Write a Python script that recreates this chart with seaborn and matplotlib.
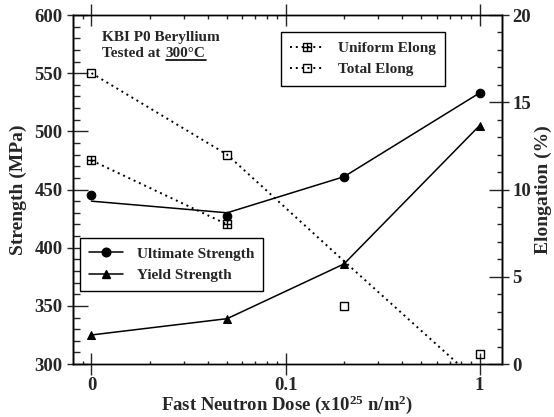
import numpy as np
import matplotlib
matplotlib.use("Agg")
import matplotlib.pyplot as plt
import seaborn as sns
from matplotlib.path import Path
from matplotlib.lines import Line2D
from matplotlib.ticker import FixedLocator, MultipleLocator, NullFormatter, NullLocator

# ---------------- data ----------------
dose = np.array([0.0, 0.05, 0.2, 1.0])           # x10^25 n/m^2
ultimate_pts = [445, 427, 461, 533]               # MPa (symbols)
ultimate_line = [440, 430, 461, 533]              # MPa (line)
yield_pts = [325, 339, 386, 505]                  # MPa
uniform_dose = np.array([0.0, 0.05])
uniform_elong = [11.67, 8.0]                      # %
total_pts = [16.67, 12.0, 3.33, 0.57]             # % (symbols)
total_line = [16.67, 12.0, 5.9, -1.1]             # % (line)
xtick_vals = [0.0, 0.1, 1.0]
xtick_labels = ["0", "0.1", "1"]

ZERO_POS = 0.01  # where dose 0 sits on the log axis
def xpos(d):
    d = np.asarray(d, dtype=float)
    return np.where(d == 0, ZERO_POS, d)

sns.set_style("ticks")
plt.rcParams["font.family"] = ["Liberation Serif", "DejaVu Serif"]
plt.rcParams["font.weight"] = "bold"
plt.rcParams["axes.labelweight"] = "bold"
plt.rcParams["mathtext.default"] = "regular"
plt.rcParams["axes.linewidth"] = 1.0

fig = plt.figure(figsize=(5.54, 4.17), dpi=100)
ax = fig.add_axes([0.1312, 0.127, 0.7744, 0.837])
ax.set_xscale("log")
ax2 = ax.twinx()

# custom "boxed plus" marker
box_plus = Path(
    [(-1, -1), (1, -1), (1, 1), (-1, 1), (-1, -1), (0, -1), (0, 1), (-1, 0), (1, 0)],
    [Path.MOVETO, Path.LINETO, Path.LINETO, Path.LINETO, Path.CLOSEPOLY,
     Path.MOVETO, Path.LINETO, Path.MOVETO, Path.LINETO],
)

dot = (0, (1, 2))
lw = 1.1
ms = 6.2

# strength (left axis)
sns.lineplot(x=xpos(dose), y=ultimate_line, ax=ax, color="black", lw=lw)
sns.lineplot(x=xpos(dose), y=ultimate_pts, ax=ax, color="black", linestyle="none",
             marker="o", markersize=ms, mec="black", mfc="black")
sns.lineplot(x=xpos(dose), y=yield_pts, ax=ax, color="black", lw=lw,
             marker="^", markersize=ms, mec="black", mfc="black")

# elongation (right axis)
sns.lineplot(x=xpos(uniform_dose), y=uniform_elong, ax=ax2, color="black", lw=1.4,
             linestyle=dot, marker=box_plus, markersize=ms, mfc="none", mec="black", mew=1)
sns.lineplot(x=xpos(dose), y=total_line, ax=ax2, color="black", lw=1.4, linestyle=dot)
sns.lineplot(x=xpos(dose), y=total_pts, ax=ax2, color="black", linestyle="none",
             marker="s", markersize=ms, mfc="none", mec="black", mew=1)

# axes limits and ticks
ax.set_xlim(0.008, 1.3)
ax.set_ylim(300, 600)
ax2.set_ylim(0, 20)

ax.xaxis.set_major_locator(FixedLocator(list(xpos(xtick_vals))))
ax.set_xticklabels(xtick_labels)
minors = [0.009] + [k * 0.01 for k in range(2, 10)] + [k * 0.1 for k in range(2, 10)]
ax.xaxis.set_minor_locator(FixedLocator(minors))
ax.xaxis.set_minor_formatter(NullFormatter())
ax.yaxis.set_major_locator(MultipleLocator(50))
ax.yaxis.set_minor_locator(MultipleLocator(10))
ax2.yaxis.set_major_locator(MultipleLocator(5))
ax2.yaxis.set_minor_locator(MultipleLocator(1))

PX = 72 / 100  # points per pixel
ax.tick_params(axis="x", which="major", direction="inout", length=22 * PX, width=1,
               top=True, labelsize=13.5, pad=1.5)
ax.tick_params(axis="x", which="minor", direction="in", length=3.5 * PX, width=1, top=True)
ax.tick_params(axis="y", which="major", direction="in", length=14.7 * PX, width=1,
               labelsize=13.5, pad=7.2, right=False)
ax.tick_params(axis="y", which="minor", direction="in", length=7 * PX, width=1, right=False)
ax2.tick_params(axis="y", which="major", direction="in", length=13.3 * PX, width=1,
                labelsize=13.5, pad=7.5)
ax2.tick_params(axis="y", which="minor", direction="in", length=5 * PX, width=1)

# outward parts of the major y ticks
secl = ax.secondary_yaxis("left")
secl.yaxis.set_major_locator(MultipleLocator(50))
secl.yaxis.set_major_formatter(NullFormatter())
secl.yaxis.set_minor_locator(NullLocator())
secl.tick_params(axis="y", which="major", direction="out", length=6 * PX, width=1)
secr = ax2.secondary_yaxis("right")
secr.yaxis.set_major_locator(MultipleLocator(5))
secr.yaxis.set_major_formatter(NullFormatter())
secr.yaxis.set_minor_locator(NullLocator())
secr.tick_params(axis="y", which="major", direction="out", length=6.7 * PX, width=1)

for a in (ax, ax2):
    for s in a.spines.values():
        s.set_visible(True)
        s.set_linewidth(1.0)
        s.set_color("black")
for t in ax.get_xticklabels() + ax.get_yticklabels() + ax2.get_yticklabels():
    t.set_fontweight("bold")

ax.set_xlabel("Fast Neutron Dose (x10$^{25}$ n/m$^2$)", fontsize=13.5, fontweight="bold", labelpad=-0.5)
ax.set_ylabel("Strength (MPa)", fontsize=14, fontweight="bold")
ax.yaxis.set_label_coords((27 - 72.7) / 429, 0.5)
ax2.set_ylabel("Elongation (%)", fontsize=14, fontweight="bold")
ax2.yaxis.set_label_coords((535 - 72.7) / 429, 0.5)

# annotation
ax.text(0.0676, 0.926, "KBI P0 Beryllium", transform=ax.transAxes, fontsize=11,
        fontweight="bold", va="baseline", ha="left")
ax.text(0.0676, 0.880, "Tested at", transform=ax.transAxes, fontsize=11,
        fontweight="bold", va="baseline", ha="left")
t300 = ax.text((165.7 - 72.7) / 429, 0.880, "300°C", transform=ax.transAxes, fontsize=11,
               fontweight="bold", va="baseline", ha="left")

# legends
h_el = [
    Line2D([], [], color="black", lw=1.4, linestyle=dot, marker=box_plus, markersize=ms,
           mfc="none", mec="black", mew=1),
    Line2D([], [], color="black", lw=1.4, linestyle=dot, marker="s", markersize=ms,
           mfc="none", mec="black", mew=1),
]
leg1 = ax2.legend(h_el, ["Uniform Elong", "Total Elong"], loc="upper left",
                  bbox_to_anchor=(281 / 554, 1 - 32.3 / 417), bbox_transform=fig.transFigure,
                  borderaxespad=0, fancybox=False, edgecolor="black", framealpha=1,
                  prop={"size": 11, "weight": "bold"}, handlelength=2.2, borderpad=0.6,
                  labelspacing=0.5, handletextpad=0.9)
leg1.get_frame().set_linewidth(1.0)

h_st = [
    Line2D([], [], color="black", lw=lw, marker="o", markersize=ms),
    Line2D([], [], color="black", lw=lw, marker="^", markersize=ms),
]
leg2 = ax2.legend(h_st, ["Ultimate Strength", "Yield Strength"], loc="upper left",
                  bbox_to_anchor=(80 / 554, 1 - 237.7 / 417), bbox_transform=fig.transFigure,
                  borderaxespad=0, fancybox=False, edgecolor="black", framealpha=1,
                  prop={"size": 11, "weight": "bold"}, handlelength=2.2, borderpad=0.6,
                  labelspacing=0.5, handletextpad=0.9)
leg2.get_frame().set_linewidth(1.0)
ax2.add_artist(leg1)

# underline "300°C"
fig.canvas.draw()
bb = t300.get_window_extent(fig.canvas.get_renderer())
inv = fig.transFigure.inverted()
(x0, y0) = inv.transform((bb.x0, bb.y0 - 0.5))
(x1, _) = inv.transform((bb.x1, bb.y0 - 0.5))
fig.add_artist(Line2D([x0, x1], [y0, y0], transform=fig.transFigure, color="black", lw=1.2))

fig.savefig("out.png", dpi=100)
